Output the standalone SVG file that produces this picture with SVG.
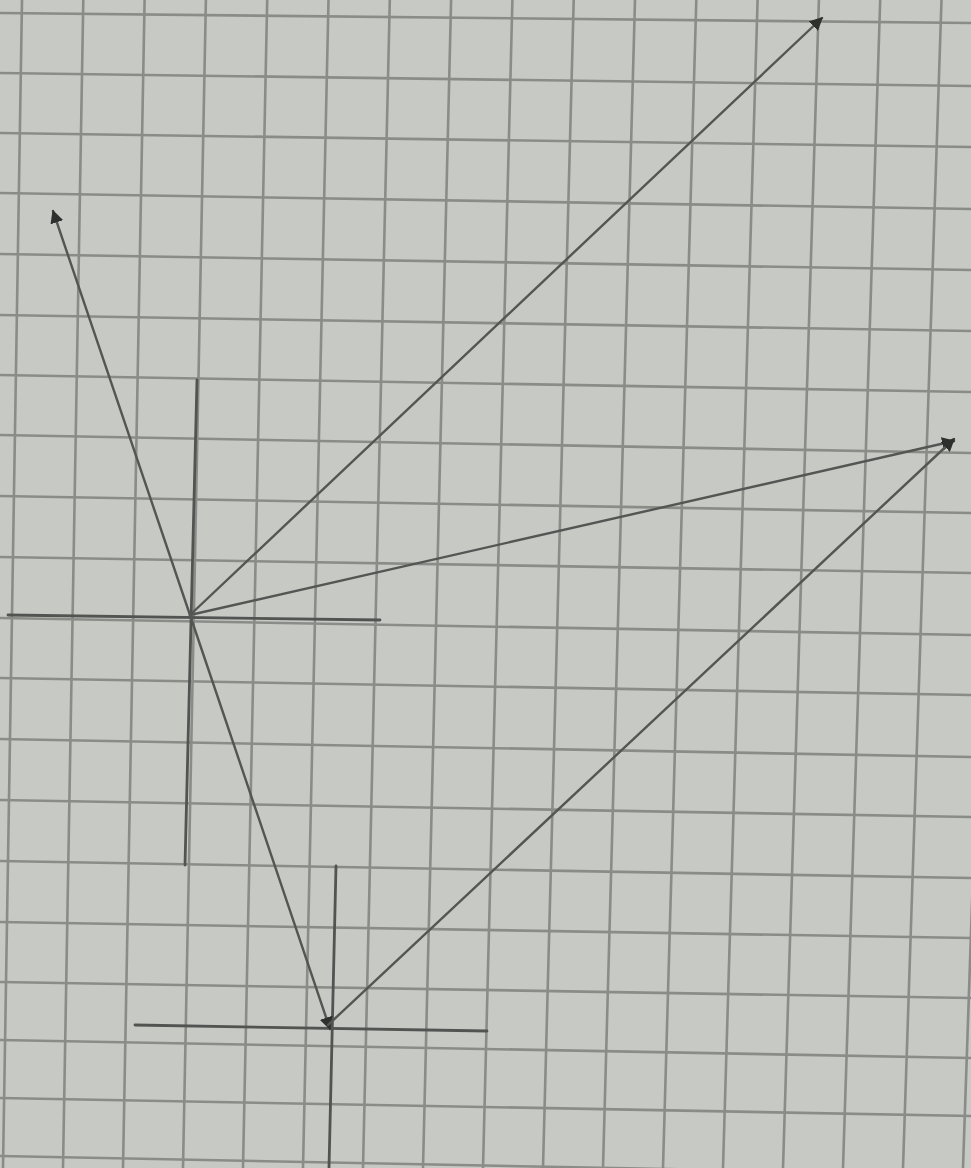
<svg xmlns="http://www.w3.org/2000/svg" width="971" height="1168" viewBox="0 0 971 1168">
  <defs>
    <style>
      .grid line { stroke: #8a8c88; stroke-width: 2.6; }
      .axis { stroke: #525452; stroke-width: 2.8; stroke-linecap: round; fill: none; }
      .vec { stroke: #545654; stroke-width: 2.4; stroke-linecap: round; fill: none; marker-end: url(#arrow); }
    </style>
    <marker id="arrow" viewBox="0 0 10 10" refX="9" refY="5" markerWidth="5.5" markerHeight="5.5" markerUnits="strokeWidth" orient="auto">
      <path d="M0,0 L10,5 L0,10 Z" fill="#2e302e"/>
    </marker>
  </defs>
  <rect width="971" height="1168" fill="#c7c9c5"/>
  <g id="grid" class="grid">
    <line x1="22" y1="0" x2="3" y2="1168"/>
    <line x1="83.3" y1="0" x2="63" y2="1168"/>
    <line x1="144.6" y1="0" x2="123" y2="1168"/>
    <line x1="205.9" y1="0" x2="183" y2="1168"/>
    <line x1="267.2" y1="0" x2="243" y2="1168"/>
    <line x1="328.5" y1="0" x2="303" y2="1168"/>
    <line x1="389.8" y1="0" x2="363" y2="1168"/>
    <line x1="451.1" y1="0" x2="423" y2="1168"/>
    <line x1="512.4" y1="0" x2="483" y2="1168"/>
    <line x1="573.7" y1="0" x2="543" y2="1168"/>
    <line x1="635" y1="0" x2="603" y2="1168"/>
    <line x1="696.3" y1="0" x2="663" y2="1168"/>
    <line x1="757.6" y1="0" x2="723" y2="1168"/>
    <line x1="818.9" y1="0" x2="783" y2="1168"/>
    <line x1="880.2" y1="0" x2="843" y2="1168"/>
    <line x1="941.5" y1="0" x2="903" y2="1168"/>
    <line x1="1002.8" y1="0" x2="963" y2="1168"/>
    <line x1="0" y1="13" x2="971" y2="23"/>
    <line x1="0" y1="73" x2="971" y2="86"/>
    <line x1="0" y1="133" x2="971" y2="147"/>
    <line x1="0" y1="193" x2="971" y2="209"/>
    <line x1="0" y1="254" x2="971" y2="270"/>
    <line x1="0" y1="315" x2="971" y2="331"/>
    <line x1="0" y1="375" x2="971" y2="392"/>
    <line x1="0" y1="435" x2="971" y2="453"/>
    <line x1="0" y1="496" x2="971" y2="513"/>
    <line x1="0" y1="557" x2="971" y2="573"/>
    <line x1="0" y1="618" x2="971" y2="635"/>
    <line x1="0" y1="678" x2="971" y2="695"/>
    <line x1="0" y1="739" x2="971" y2="757"/>
    <line x1="0" y1="800" x2="971" y2="817"/>
    <line x1="0" y1="861" x2="971" y2="878"/>
    <line x1="0" y1="922" x2="971" y2="938"/>
    <line x1="0" y1="982" x2="971" y2="998"/>
    <line x1="0" y1="1040" x2="971" y2="1058"/>
    <line x1="0" y1="1098" x2="971" y2="1116"/>
    <line x1="0" y1="1156" x2="971" y2="1175"/>
  </g>
  <g id="origin-1">
    <line class="axis" x1="8" y1="615" x2="380" y2="620"/>
    <line class="axis" x1="197" y1="380" x2="185" y2="865"/>
  </g>
  <g id="origin-2">
    <line class="axis" x1="135" y1="1025" x2="487" y2="1031"/>
    <line class="axis" x1="336" y1="866" x2="329" y2="1168"/>
  </g>
  <g id="connectors">
    <line class="vec" x1="190" y1="615" x2="53" y2="211"/>
    <line class="vec" x1="190" y1="615" x2="822" y2="18"/>
    <line class="vec" x1="190" y1="615" x2="954" y2="441"/>
    <line class="vec" x1="190" y1="615" x2="330" y2="1029"/>
    <line class="vec" x1="328" y1="1025" x2="954" y2="439"/>
  </g>
</svg>
